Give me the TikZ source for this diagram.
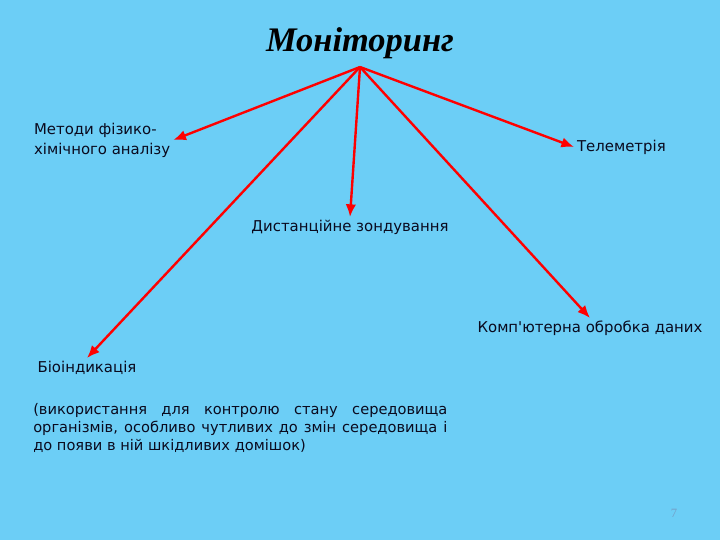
\documentclass[tikz,border=0pt]{standalone}
\usepackage{fontspec}
\setmainfont{Liberation Serif}
\newfontfamily\labelfont{DejaVu Sans}
\usepackage{tikz}
\usetikzlibrary{arrows.meta}
\definecolor{slideblue}{RGB}{108,206,246}
\definecolor{pagegrey}{RGB}{115,160,200}
\definecolor{inkdark}{RGB}{10,10,30}

\tikzset{
    lbl/.style={font=\labelfont\fontsize{10.6}{14.2}\selectfont, text=inkdark, inner sep=2pt},
    redarrow/.style={-{Latex[length=9pt, width=7.5pt]}, red, line width=1.7pt}
}

\begin{document}
\begin{tikzpicture}[x=0.025cm, y=-0.025cm]

    \fill[slideblue] (0,0) rectangle (720,540);

    \node[font=\fontsize{24.5}{28}\selectfont\bfseries\itshape] (M) at (360,43) {Моніторинг};
    \coordinate (top) at (360,67);

    \node[lbl, anchor=west, align=left] (A) at (31,140) {Методи фізико-\\хімічного аналізу};
    \node[lbl, anchor=west] (B) at (574,147) {Телеметрія};
    \node[lbl, anchor=north] (C) at (350,217) {Дистанційне зондування};
    \node[lbl, anchor=north] (D) at (590,318) {Комп'ютерна обробка даних};
    \node[lbl, anchor=north] (E) at (87,358) {Біоіндикація};

    \node[font=\labelfont\fontsize{10.4}{13}\selectfont, text=inkdark, anchor=north west, text width=10.35cm, align=justify, inner sep=0pt] (F) at (33,403) {(використання для контролю стану середовища\linebreak організмів, особливо чутливих до змін середовища і\linebreak до появи в ній шкідливих домішок)};

    \node[text=pagegrey, font=\fontsize{9}{10}\selectfont] (P) at (674,513) {7};

    \draw [redarrow] (top)--(A.east) ;
    \draw [redarrow] (top)--(B.west) ;
    \draw [redarrow] (top)--(C.north) ;
    \draw [redarrow] (top)--(D.north) ;
    \draw [redarrow] (top)--(E.north) ;

\end{tikzpicture}
\end{document}
